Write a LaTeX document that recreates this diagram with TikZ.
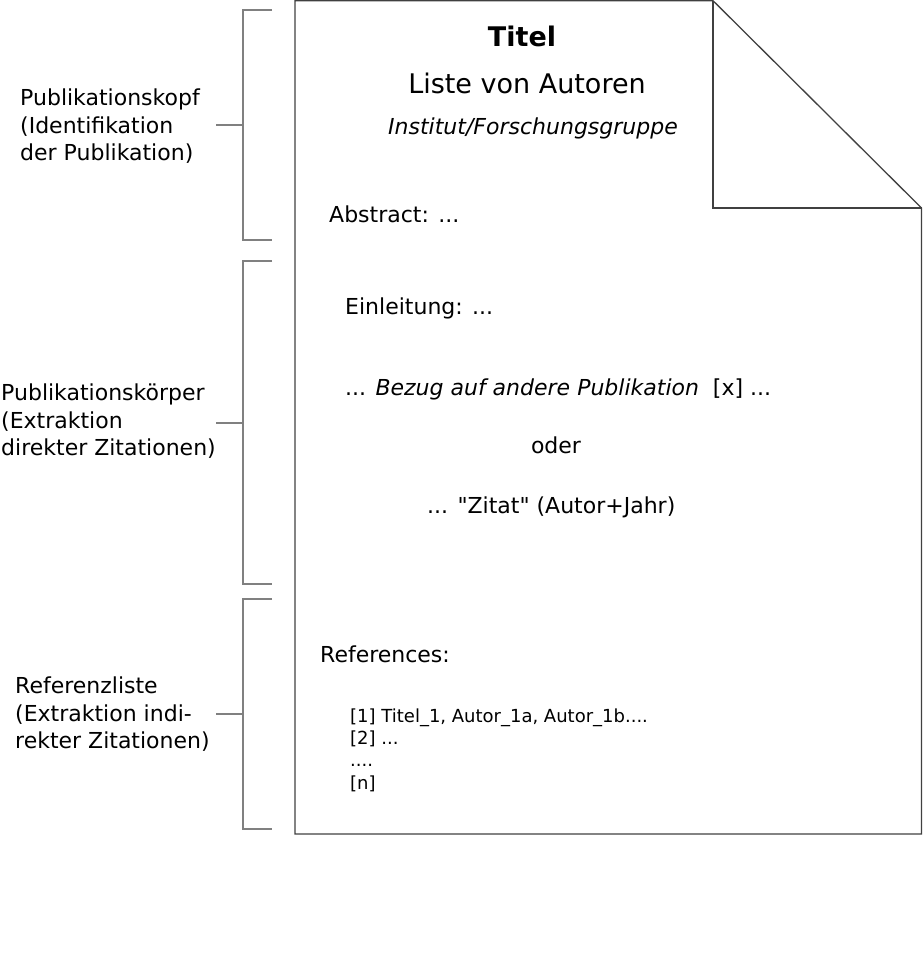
\documentclass[tikz,border=0pt]{standalone}
\usepackage{fontspec}
\setmainfont{DejaVu Sans}
\newfontfamily\qfont{DejaVu Sans}
\begin{document}
\begin{tikzpicture}[x=1pt,y=-1pt,
  doc/.style={draw=black!75,line width=1.3pt,line join=miter},
  brk/.style={draw=black!50,line width=1.2pt},
  lbl/.style={anchor=west,align=left,inner sep=0pt,font=\fontsize{22}{27.5}\selectfont},
  body/.style={anchor=base west,inner sep=0pt,font=\fontsize{22}{27.5}\selectfont},
  bodyc/.style={anchor=base,inner sep=0pt,font=\fontsize{22}{27.5}\selectfont}]
\useasboundingbox (0,0) rectangle (923,957);
% document
\draw[doc] (295,0.7) -- (713,0.7) -- (921.5,208) -- (921.5,834) -- (295,834) -- cycle;
\draw[doc] (713,0.7) -- (713,208) -- (921.5,208);
% brackets
\coordinate (b1) at (243,125);
\coordinate (b2) at (243,423);
\coordinate (b3) at (243,714);
\draw[brk] (272,10) -- (243,10) -- (243,240) -- (272,240);
\draw[brk] (216,125) -- (b1);
\draw[brk] (272,261) -- (243,261) -- (243,584) -- (272,584);
\draw[brk] (216,423) -- (b2);
\draw[brk] (272,599) -- (243,599) -- (243,829) -- (272,829);
\draw[brk] (216,714) -- (b3);
% left labels
\node[lbl] (l1) at (20,126.5) {Publikationskopf\\(Identifikation\\der Publikation)};
\node[lbl] (l2) at (1,421.5) {Publikationskörper\\(Extraktion\\direkter Zitationen)};
\node[lbl] (l3) at (15,714.5) {Referenzliste\\(Extraktion indi-\\rekter Zitationen)};
% body texts
\node[bodyc,font=\fontsize{27}{32}\selectfont\bfseries] (title) at (522,47) {Titel};
\node[bodyc,font=\fontsize{27}{32}\selectfont] (authors) at (527,94) {Liste von Autoren};
\node[bodyc,font=\fontsize{22}{27.5}\selectfont\itshape] (inst) at (533,135) {Institut/Forschungsgruppe};
\node[body] (abs) at (329,223) {Abstract: ...};
\node[body] (intro) at (345,314) {Einleitung: ...};
\node[body] (bezug) at (345,395) {... \textit{Bezug auf andere Publikation}\ \ [x] ...};
\node[bodyc] (oder) at (556,453) {oder};
\node[body,font=\fontsize{22}{27.5}\qfont] (zitat) at (427,513) {... "Zitat" (Autor+Jahr)};
\node[body] (refs) at (320,662) {References:};
\node[anchor=west,align=left,inner sep=0pt,font=\fontsize{18}{22.3}\selectfont] (list) at (350,750)
  {[1] Titel\_1, Autor\_1a, Autor\_1b....\\{}[2] ...\\{}....\\{}[n]};
\end{tikzpicture}
\end{document}
